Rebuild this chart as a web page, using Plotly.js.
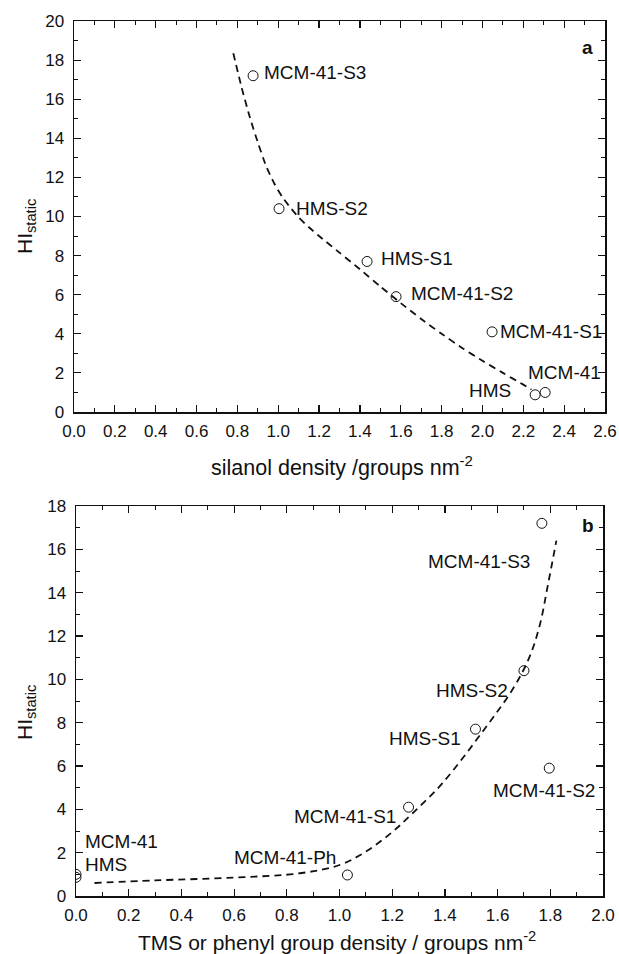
<!DOCTYPE html>
<html>
<head>
<meta charset="utf-8">
<script src="https://cdn.plot.ly/plotly-3.0.1.min.js"></script>
<style>html,body{margin:0;padding:0;background:#fff;}#chart{width:619px;height:954px;}</style>
</head>
<body>
<div id="chart"></div>
<script>
// ---- Panel a: HI_static vs silanol density ----
const labelsA = ['MCM-41-S3', 'HMS-S2', 'HMS-S1', 'MCM-41-S2', 'MCM-41-S1', 'MCM-41', 'HMS'];
const silanolA = [0.877, 1.004, 1.435, 1.577, 2.047, 2.307, 2.258];
const hiA = [17.2, 10.4, 7.7, 5.9, 4.1, 1.0, 0.88];
const fitXA = [0.78, 0.82, 0.86, 0.90, 0.94, 0.98, 1.02, 1.06, 1.10, 1.15, 1.20, 1.30, 1.40, 1.50, 1.60, 1.70, 1.80, 1.90, 2.00, 2.10, 2.20, 2.24];
const fitYA = [18.35, 16.63, 15.11, 13.79, 12.6, 11.7, 11.0, 10.45, 9.95, 9.45, 9.0, 8.15, 7.3, 6.42, 5.57, 4.76, 4.0, 3.28, 2.62, 2.0, 1.4, 1.15];

// ---- Panel b: HI_static vs TMS or phenyl group density ----
const labelsB = ['MCM-41-S3', 'HMS-S2', 'HMS-S1', 'MCM-41-S2', 'MCM-41-S1', 'MCM-41-Ph', 'MCM-41', 'HMS'];
const densB = [1.768, 1.70, 1.516, 1.796, 1.262, 1.03, 0, 0];
const hiB = [17.2, 10.4, 7.7, 5.9, 4.1, 0.97, 1.0, 0.86];
const fitXB = [0.07, 0.3, 0.6, 0.85, 1.0, 1.1, 1.2, 1.28, 1.39, 1.55, 1.66, 1.72, 1.76, 1.79, 1.823];
const fitYB = [0.6, 0.72, 0.85, 1.05, 1.43, 2.05, 2.95, 3.85, 5.2, 7.7, 9.6, 11.0, 12.5, 14.3, 16.4];

const xTickValsA = [0, 0.2, 0.4, 0.6, 0.8, 1.0, 1.2, 1.4, 1.6, 1.8, 2.0, 2.2, 2.4, 2.6];
const xTickValsB = [0, 0.2, 0.4, 0.6, 0.8, 1.0, 1.2, 1.4, 1.6, 1.8, 2.0];

// label placement (pixel offsets from the point)
const offA = [
  {xa:'left', dx:9, dy:3}, {xa:'left', dx:15, dy:0}, {xa:'left', dx:12, dy:3},
  {xa:'left', dx:13, dy:3}, {xa:'left', dx:6, dy:0}, {xa:'left', dx:-19, dy:20},
  {xa:'right', dx:-22, dy:4}
];
const offB = [
  {xa:'right', dx:-10, dy:-38}, {xa:'right', dx:-14, dy:-20}, {xa:'right', dx:-12, dy:-9},
  {xa:'center', dx:-5, dy:-22}, {xa:'right', dx:-11, dy:-9}, {xa:'right', dx:-9, dy:17},
  {xa:'left', dx:7, dy:33}, {xa:'left', dx:7, dy:13}
];

const W = 619, H = 954;
const FONT = 'Liberation Sans, Arial, Helvetica, sans-serif';
const INK = '#111';

const markerStyle = {symbol:'circle', size:10, color:'rgba(255,255,255,0)', line:{color:INK, width:1}};
const dashStyle = {color:INK, width:1.8, dash:'7px,5px', shape:'spline', smoothing:0.6};

const traces = [
  {x:fitXA, y:fitYA, mode:'lines', line:dashStyle, xaxis:'x', yaxis:'y', hoverinfo:'skip'},
  {x:silanolA, y:hiA, mode:'markers', marker:markerStyle, xaxis:'x', yaxis:'y', text:labelsA},
  {x:fitXB, y:fitYB, mode:'lines', line:Object.assign({}, dashStyle, {smoothing:1}), xaxis:'x2', yaxis:'y2', hoverinfo:'skip'},
  {x:densB, y:hiB, mode:'markers', marker:markerStyle, xaxis:'x2', yaxis:'y2', text:labelsB}
];

function axisBase(extra) {
  return Object.assign({
    showgrid:false, zeroline:false, showline:true, linecolor:INK, linewidth:1.5,
    mirror:'ticks', ticks:'inside', ticklen:7, tickwidth:1.2, tickcolor:INK,
    tickfont:{family:FONT, size:17, color:INK}, automargin:false, fixedrange:true
  }, extra);
}

const layout = {
  width:W, height:H, margin:{l:0, r:0, t:0, b:0},
  paper_bgcolor:'#fff', plot_bgcolor:'rgba(0,0,0,0)', showlegend:false,
  font:{family:FONT, color:INK},
  xaxis: axisBase({domain:[74/W, 605/W], range:[0, 2.6], anchor:'y', tickvals:xTickValsA,
    ticktext:xTickValsA.map(v=>v.toFixed(1)), ticklabelstandoff:3,
    minor:{dtick:0.1, tick0:0, ticks:'inside', ticklen:4, tickcolor:INK, tickwidth:1}}),
  yaxis: axisBase({domain:[1-412/H, 1-21/H], range:[0, 20], anchor:'x', dtick:2, tick0:0,
    ticklabelstandoff:5,
    minor:{dtick:1, tick0:0, ticks:'inside', ticklen:4, tickcolor:INK, tickwidth:1}}),
  xaxis2: axisBase({domain:[76/W, 603/W], range:[0, 2.0], anchor:'y2', tickvals:xTickValsB,
    ticktext:xTickValsB.map(v=>v.toFixed(1)), ticklabelstandoff:3,
    minor:{dtick:0.1, tick0:0, ticks:'inside', ticklen:4, tickcolor:INK, tickwidth:1}}),
  yaxis2: axisBase({domain:[1-896/H, 1-506/H], range:[0, 18], anchor:'x2', dtick:2, tick0:0,
    ticklabelstandoff:5,
    minor:{dtick:1, tick0:0, ticks:'inside', ticklen:4, tickcolor:INK, tickwidth:1}}),
  annotations: []
};

const ann = layout.annotations;
labelsA.forEach((t, i) => ann.push({
  x:silanolA[i], y:hiA[i], xref:'x', yref:'y', text:t, showarrow:false,
  xanchor:offA[i].xa, yanchor:'middle', xshift:offA[i].dx, yshift:offA[i].dy,
  font:{family:FONT, size:19, color:INK}
}));
labelsB.forEach((t, i) => ann.push({
  x:densB[i], y:hiB[i], xref:'x2', yref:'y2', text:t, showarrow:false,
  xanchor:offB[i].xa, yanchor:'middle', xshift:offB[i].dx, yshift:offB[i].dy,
  font:{family:FONT, size:19, color:INK}
}));
// panel letters
ann.push({x:587/W, y:1-48/H, xref:'paper', yref:'paper', text:'<b>a</b>', showarrow:false,
  xanchor:'center', yanchor:'middle', font:{family:FONT, size:19, color:INK}});
ann.push({x:588/W, y:1-525/H, xref:'paper', yref:'paper', text:'<b>b</b>', showarrow:false,
  xanchor:'center', yanchor:'middle', font:{family:FONT, size:19, color:INK}});
// axis titles
ann.push({x:342/W, y:1-466/H, xref:'paper', yref:'paper', text:'silanol density /groups nm<sup>-2</sup>',
  showarrow:false, xanchor:'center', yanchor:'middle', font:{family:FONT, size:21.5, color:INK}});
ann.push({x:337/W, y:1-941/H, xref:'paper', yref:'paper', text:'TMS or phenyl group density / groups nm<sup>-2</sup>',
  showarrow:false, xanchor:'center', yanchor:'middle', font:{family:FONT, size:21, color:INK}});
ann.push({x:26/W, y:1-227/H, xref:'paper', yref:'paper', text:'HI<sub>static</sub>', textangle:-90,
  showarrow:false, xanchor:'center', yanchor:'middle', font:{family:FONT, size:21, color:INK}});
ann.push({x:26/W, y:1-713/H, xref:'paper', yref:'paper', text:'HI<sub>static</sub>', textangle:-90,
  showarrow:false, xanchor:'center', yanchor:'middle', font:{family:FONT, size:21, color:INK}});

Plotly.newPlot('chart', traces, layout, {staticPlot:true, displayModeBar:false});
</script>
</body>
</html>
